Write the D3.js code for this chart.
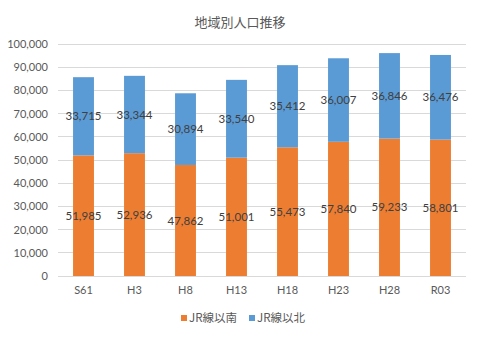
<!DOCTYPE html>
<html>
<head>
<meta charset="utf-8">
<script src="https://cdn.jsdelivr.net/npm/d3@7"></script>
<style>
  body { margin: 0; background: #fff; }
  svg text { font-family: Lato, "Noto Sans CJK JP", sans-serif; }
</style>
</head>
<body>
<svg id="chart"></svg>
<script>
// Population by area, stacked
const categories = ["S61", "H3", "H8", "H13", "H18", "H23", "H28", "R03"];
const south = [51985, 52936, 47862, 51001, 55473, 57840, 59233, 58801];
const north = [33715, 33344, 30894, 33540, 35412, 36007, 36846, 36476];
const seriesNames = ["JR線以南", "JR線以北"];
const colors = ["#ED7D31", "#5B9BD5"];
const yTicks = [0, 10000, 20000, 30000, 40000, 50000, 60000, 70000, 80000, 90000, 100000];

const W = 480, H = 338;
const margin = {top: 44, right: 14, bottom: 62, left: 58},
    width = W - margin.left - margin.right,
    height = H - margin.top - margin.bottom;

const svg = d3.select("#chart").attr("width", W).attr("height", H);

// Title
svg.append("text")
    .attr("x", W / 2).attr("y", 27)
    .attr("text-anchor", "middle")
    .attr("fill", "#595959")
    .style("font-family", "'Noto Sans CJK JP', sans-serif")
    .style("font-size", "13px")
    .text("地域別人口推移");

const g = svg.append("g").attr("transform", `translate(${margin.left},${margin.top})`);

const x = d3.scaleBand().domain(categories).range([0, width]).paddingInner(0.59).paddingOuter(0.295);
const y = d3.scaleLinear().domain([0, 100000]).range([height, 0]);

// Gridlines
g.selectAll(".grid").data(yTicks).enter().append("line")
    .attr("x1", 0).attr("x2", width)
    .attr("y1", d => y(d)).attr("y2", d => y(d))
    .attr("stroke", "#D9D9D9").attr("stroke-width", 1)
    .attr("shape-rendering", "crispEdges");

// Y axis labels
const yAxis = g.append("g")
    .call(d3.axisLeft(y).tickValues(yTicks).tickFormat(d3.format(",")).tickSize(0).tickPadding(10));
yAxis.select(".domain").remove();
yAxis.selectAll("text").attr("fill", "#595959").style("font-size", "11px");

// X axis labels
const xAxis = g.append("g")
    .attr("transform", `translate(0,${height})`)
    .call(d3.axisBottom(x).tickSize(0).tickPadding(10));
xAxis.select(".domain").remove();
xAxis.selectAll("text").attr("fill", "#595959").style("font-size", "11px");

// Stack the two series
const rows = categories.map((c, i) => ({cat: c, s: south[i], n: north[i]}));
const stack = d3.stack().keys(["s", "n"])(rows);

const layers = g.selectAll(".layer").data(stack).enter().append("g")
    .attr("fill", (d, i) => colors[i]);

layers.selectAll("rect").data(d => d).enter().append("rect")
    .attr("x", d => x(d.data.cat))
    .attr("y", d => y(d[1]))
    .attr("width", x.bandwidth())
    .attr("height", d => y(d[0]) - y(d[1]));

// Value labels
layers.selectAll(".lbl").data(d => d.map(p => ({p, key: d.key}))).enter().append("text")
    .attr("x", d => x(d.p.data.cat) + x.bandwidth() / 2)
    .attr("y", d => y((d.p[0] + d.p[1]) / 2))
    .attr("dy", "0.35em")
    .attr("text-anchor", "middle")
    .attr("fill", "#404040")
    .style("font-size", "11.5px")
    .text(d => d3.format(",")(d.p.data[d.key]));

// Legend
const legend = svg.append("g").attr("transform", `translate(181,318)`);
const legX = [0, 68];
seriesNames.forEach((name, i) => {
  const it = legend.append("g").attr("transform", `translate(${legX[i]},0)`);
  it.append("rect").attr("x", 0).attr("y", -3).attr("width", 6).attr("height", 6).attr("fill", colors[i]);
  it.append("text").attr("x", 8).attr("y", 0).attr("dy", "0.35em")
    .attr("fill", "#595959")
    .style("font-family", "'Noto Sans CJK JP', sans-serif")
    .style("font-size", "11.5px")
    .text(name);
});
</script>
</body>
</html>
